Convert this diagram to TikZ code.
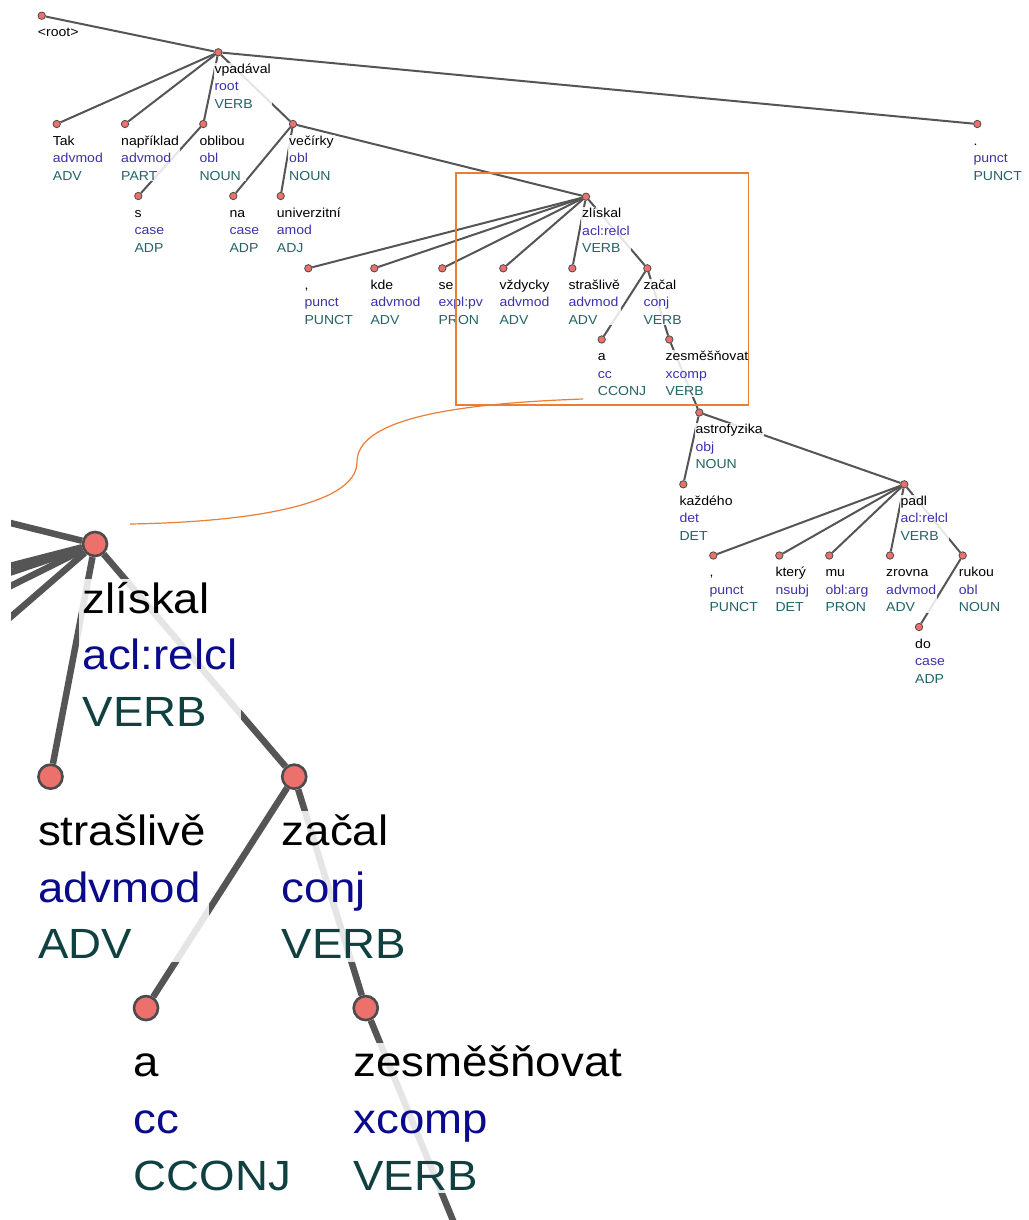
\documentclass[tikz,border=0pt]{standalone}
\usepackage{fontspec}
\setmainfont{Liberation Sans}[FakeStretch=1.08]
\definecolor{relblue}{RGB}{60,50,175}
\definecolor{posteal}{RGB}{35,100,100}
\definecolor{dotred}{RGB}{236,112,107}
\definecolor{edgegray}{RGB}{85,85,85}
\definecolor{zoomorange}{RGB}{237,125,49}

\tikzset{
  tokdot/.style={circle, draw=black!70, line width=0.8pt, fill=dotred,
                 minimum size=7.4pt, inner sep=0pt},
  deparc/.style={draw=edgegray, line width=2pt},
  toklabel/.style={anchor=north west, xshift=-5pt, yshift=-10.5pt, align=left,
                   inner sep=1pt, fill=white, fill opacity=0.85, text opacity=1,
                   font=\fontsize{13}{17.4}\selectfont},
}

% word / deprel / UPOS under a token
\newcommand{\udlbl}[4]{%
  \node[toklabel] (#1-l) at (#1)
    {\rule{0pt}{9.5pt}#2\\\textcolor{relblue}{#3}\\\textcolor{posteal}{#4}};}

\newcommand{\udtree}{%
  % tokens
  \node[tokdot] (root) at (41.7,15.7) {};
  \node[tokdot] (vpadaval) at (218.3,52.3) {};
  \node[tokdot] (tak) at (56.7,124) {};
  \node[tokdot] (napriklad) at (125,124) {};
  \node[tokdot] (oblibou) at (203.3,124) {};
  \node[tokdot] (vecirky) at (293,124) {};
  \node[tokdot] (tecka) at (977.3,124) {};
  \node[tokdot] (s) at (138.3,196) {};
  \node[tokdot] (na) at (233.3,196) {};
  \node[tokdot] (univerzitni) at (280.7,196) {};
  \node[tokdot] (zliskal) at (586,196.7) {};
  \node[tokdot] (carka1) at (308.3,268.3) {};
  \node[tokdot] (kde) at (374.3,268.3) {};
  \node[tokdot] (se) at (442.3,268.3) {};
  \node[tokdot] (vzdycky) at (503.3,268.3) {};
  \node[tokdot] (straslive) at (572.3,268.3) {};
  \node[tokdot] (zacal) at (647.3,268.3) {};
  \node[tokdot] (a) at (601.7,339.5) {};
  \node[tokdot] (zesmesnovat) at (669.3,339.5) {};
  \node[tokdot] (astrofyzika) at (699.3,412.5) {};
  \node[tokdot] (kazdeho) at (683.3,484.3) {};
  \node[tokdot] (padl) at (904.3,484.3) {};
  \node[tokdot] (carka2) at (713.3,555.5) {};
  \node[tokdot] (ktery) at (779.3,555.5) {};
  \node[tokdot] (mu) at (829.3,555.5) {};
  \node[tokdot] (zrovna) at (890,555.5) {};
  \node[tokdot] (rukou) at (962.7,555.5) {};
  \node[tokdot] (do) at (919,627) {};
  % arcs, head/dependent
  \foreach \h/\d in {root/vpadaval, vpadaval/tak, vpadaval/napriklad,
      vpadaval/oblibou, vpadaval/vecirky, vpadaval/tecka, oblibou/s,
      vecirky/na, vecirky/univerzitni, vecirky/zliskal, zliskal/carka1,
      zliskal/kde, zliskal/se, zliskal/vzdycky, zliskal/straslive,
      zliskal/zacal, zacal/a, zacal/zesmesnovat, zesmesnovat/astrofyzika,
      astrofyzika/kazdeho, astrofyzika/padl, padl/carka2, padl/ktery,
      padl/mu, padl/zrovna, padl/rukou, rukou/do}
    \draw[deparc] (\h) -- (\d);
  % labels
  \node[toklabel] (root-l) at (root) {\rule{0pt}{9.5pt}<root>};
  \udlbl{vpadaval}{vpadával}{root}{VERB}
  \udlbl{tak}{Tak}{advmod}{ADV}
  \udlbl{napriklad}{například}{advmod}{PART}
  \udlbl{oblibou}{oblibou}{obl}{NOUN}
  \udlbl{vecirky}{večírky}{obl}{NOUN}
  \udlbl{tecka}{.}{punct}{PUNCT}
  \udlbl{s}{s}{case}{ADP}
  \udlbl{na}{na}{case}{ADP}
  \udlbl{univerzitni}{univerzitní}{amod}{ADJ}
  \udlbl{zliskal}{zlískal}{acl:relcl}{VERB}
  \udlbl{carka1}{,}{punct}{PUNCT}
  \udlbl{kde}{kde}{advmod}{ADV}
  \udlbl{se}{se}{expl:pv}{PRON}
  \udlbl{vzdycky}{vždycky}{advmod}{ADV}
  \udlbl{straslive}{strašlivě}{advmod}{ADV}
  \udlbl{zacal}{začal}{conj}{VERB}
  \udlbl{a}{a}{cc}{CCONJ}
  \udlbl{zesmesnovat}{zesměšňovat}{xcomp}{VERB}
  \udlbl{astrofyzika}{astrofyzika}{obj}{NOUN}
  \udlbl{kazdeho}{každého}{det}{DET}
  \udlbl{padl}{padl}{acl:relcl}{VERB}
  \udlbl{carka2}{,}{punct}{PUNCT}
  \udlbl{ktery}{který}{nsubj}{DET}
  \udlbl{mu}{mu}{obl:arg}{PRON}
  \udlbl{zrovna}{zrovna}{advmod}{ADV}
  \udlbl{rukou}{rukou}{obl}{NOUN}
  \udlbl{do}{do}{case}{ADP}
}

\begin{document}
\begin{tikzpicture}[x=1pt,y=-1pt]
  \useasboundingbox[fill=white] (0,0) rectangle (1028,1220);
  \udtree
  % enlarged copy of the framed part
  \begin{scope}
    \clip (11,470) rectangle (660,1220);
    \definecolor{relblue}{RGB}{10,10,140}
    \definecolor{posteal}{RGB}{16,64,64}
    \begin{scope}[name prefix=z-,
        transform canvas={xshift=-1809.5pt, yshift=95.3pt, scale=3.25}]
      \udtree
    \end{scope}
  \end{scope}
  % detail frame and its leader
  \draw[zoomorange, line width=1.6pt] (455.7,172.7) rectangle (748.3,405);
  \coordinate (zoomfrom) at (583,399);
  \coordinate (zoomto) at (130,524);
  \draw[zoomorange, line width=1.2pt] (zoomfrom)
    .. controls (440,404) and (357,422) .. (357,462)
    .. controls (357,505) and (250,522) .. (zoomto);
\end{tikzpicture}
\end{document}
